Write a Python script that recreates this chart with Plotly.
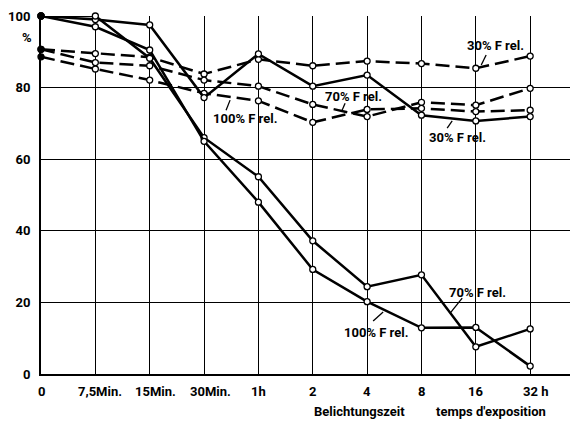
import plotly.graph_objects as go

x_labels = ["0", "7,5Min.", "15Min.", "30Min.", "1h", "2", "4", "8", "16", "32 h"]
x_idx = list(range(len(x_labels)))

# solid lines
solid_100 = [100, 97, 90.5, 65, 48, 29.2, 20.2, 12.9, 13, 2.2]
solid_70 = [100, 100, 88.2, 66, 55.1, 37.2, 24.4, 27.7, 7.6, 12.6]
solid_30 = [100, 99, 97.5, 77.2, 89.4, 80.4, 83.5, 72.3, 70.7, 71.9]
# dashed lines
dashed_30 = [90.7, 89.5, 88.5, 83.8, 87.9, 86.1, 87.4, 86.7, 85.4, 88.8]
dashed_70 = [90.7, 87, 86.1, 82.1, 80.4, 75.3, 71.9, 75.9, 75.1, 79.8]
dashed_100 = [88.6, 85.2, 82.1, 78.4, 76.3, 70.3, 73.9, 74.2, 73.3, 73.7]

FONT = "Liberation Sans Narrow, Roboto, sans-serif"
TF = dict(family=FONT, size=13, color="black", weight="bold")

# The page body adds an 8px margin; compensate so the plot sits where the reference does.
PAGE_OFF = 8
W, H = 578 - PAGE_OFF, 421 - PAGE_OFF

fig = go.Figure()

def add(series, dash):
    colors = ["black"] + ["white"] * (len(series) - 1)
    fig.add_trace(go.Scatter(
        x=x_idx, y=series, mode="lines+markers",
        line=dict(color="black", width=2.5, dash=dash),
        marker=dict(size=6, color=colors, line=dict(color="black", width=1.3)),
        showlegend=False, cliponaxis=False))

for s in [dashed_30, dashed_70, dashed_100]:
    add(s, "14px,6px")
for s in [solid_30, solid_70, solid_100]:
    add(s, "solid")

labels = [
    ("30% F rel.", 8.356, 91.9, (8.19, 89.1, 8.10, 86.3)),
    ("30% F rel.", 7.657, 66.2, (7.473, 68.7, 7.565, 70.7)),
    ("70% F rel.", 5.743, 77.4, (5.595, 75.6, 5.540, 73.7)),
    ("100% F rel.", 3.755, 71.5, (3.405, 73.7, 3.479, 76.5)),
    ("70% F rel.", 8.025, 22.9, (7.749, 21.2, 7.528, 17.0)),
    ("100% F rel.", 6.166, 11.7, (6.111, 14.8, 6.295, 17.3)),
]
for t, lx, ly, (x0, y0, x1, y1) in labels:
    fig.add_annotation(x=lx, y=ly, text=t, showarrow=False, font=TF)
    fig.add_shape(type="line", x0=x0, y0=y0, x1=x1, y1=y1,
                  line=dict(color="black", width=1.3))

shifts = [0, 5, 6, 6, 0, 0, 0, 0, 0, 5]
for i, (lab, sh) in enumerate(zip(x_labels, shifts)):
    fig.add_annotation(x=i, y=0, yref="paper", text=lab, showarrow=False,
                       xshift=sh, yshift=-17, yanchor="middle", font=TF)

fig.add_annotation(x=5, y=0, yref="paper", xanchor="center",
                   text="Belichtungszeit", showarrow=False, yshift=-37, xshift=47,
                   yanchor="middle", font=TF)
fig.add_annotation(x=7, y=0, yref="paper", xanchor="center",
                   text="temps d'exposition", showarrow=False, yshift=-37, xshift=70,
                   yanchor="middle", font=TF)
fig.add_annotation(x=0, y=1, xref="paper", yref="paper", text="%",
                   showarrow=False, xshift=-21, yshift=-21, yanchor="middle",
                   font=TF)

fig.update_layout(
    width=W, height=H,
    margin=dict(l=41 - PAGE_OFF, r=0, t=16 - PAGE_OFF, b=47, autoexpand=False),
    paper_bgcolor="white", plot_bgcolor="white",
    xaxis=dict(range=[0, 9.88], tickvals=x_idx, showticklabels=False,
               automargin=False,
               showgrid=True, gridcolor="black", gridwidth=1,
               zeroline=False, showline=True, linecolor="black", linewidth=2),
    yaxis=dict(range=[0, 100], tickvals=[0, 20, 40, 60, 80, 100],
               ticktext=["0", "20", "40", "60", "80", "100"],
               automargin=False,
               showgrid=True, gridcolor="black", gridwidth=1,
               zeroline=False, showline=True, linecolor="black", linewidth=2,
               ticks="", ticklabelstandoff=6, tickfont=TF),
)

fig.write_html("out.html")
